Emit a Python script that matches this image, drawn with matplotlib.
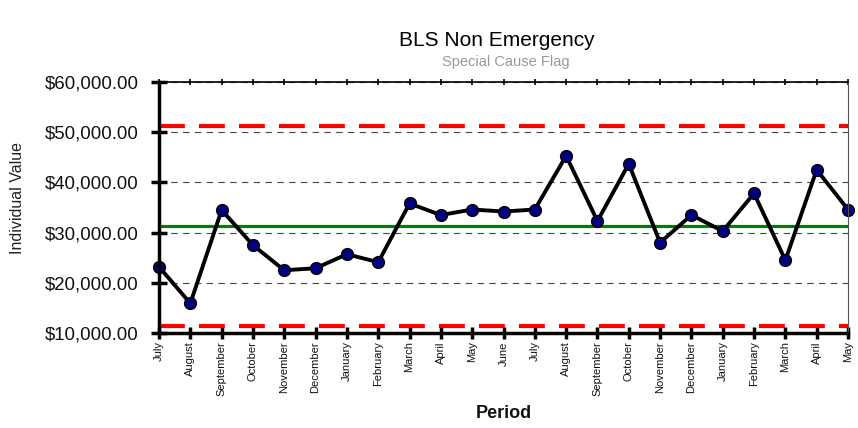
import numpy as np
import matplotlib.pyplot as plt

plt.rcParams['font.family'] = ['Liberation Sans', 'DejaVu Sans']

months = ['July', 'August', 'September', 'October', 'November', 'December',
          'January', 'February', 'March', 'April', 'May', 'June', 'July',
          'August', 'September', 'October', 'November', 'December', 'January',
          'February', 'March', 'April', 'May']
values = [23200, 15900, 34500, 27500, 22500, 22900, 25700, 24100, 35800,
          33500, 34600, 34200, 34600, 45300, 32300, 43700, 28000, 33500,
          30300, 37800, 24500, 42500, 34600]
center_line = 31400
ucl = 51300
lcl = 11400
y_ticks = [10000, 20000, 30000, 40000, 50000, 60000]

fig = plt.figure(figsize=(8.58, 4.28), dpi=100)
ax = fig.add_axes([159 / 858, 1 - 333 / 428, (848 - 159) / 858, (333 - 82) / 428])

x = np.arange(len(values))

# control limits and centre line
ax.axhline(ucl, color='#ff0000', lw=3, dashes=(6.2, 3.4), zorder=2)
ax.axhline(lcl, color='#ff0000', lw=3, dashes=(6.2, 3.4), zorder=2)
ax.axhline(center_line, color='#008000', lw=2.3, zorder=2)

ax.plot(x, values, color='black', lw=2.8, marker='o', markersize=8.5,
        markerfacecolor='#000080', markeredgecolor='black', markeredgewidth=1,
        zorder=4, clip_on=False)

ax.set_xlim(0, len(values) - 1)
ax.set_ylim(10000, 60000)
ax.set_yticks(y_ticks)
ax.set_yticklabels(['${:,.2f}'.format(v) for v in y_ticks], fontsize=13.4,
                   color='#111111')
ax.set_xticks(x)
ax.set_xticklabels(months, rotation=90, fontsize=8, color='#111111')

ax.grid(axis='y', color='#444444', lw=0.8, dashes=(5.8, 4.8), zorder=1)
ax.set_axisbelow(True)

ax.spines['left'].set_linewidth(2.5)
ax.spines['bottom'].set_linewidth(2.5)
ax.spines['top'].set_linewidth(1.2)
ax.spines['right'].set_linewidth(0.8)
ax.spines['right'].set_color('#555555')
for s in ax.spines.values():
    s.set_zorder(5)

ax.tick_params(axis='y', direction='inout', length=11, width=2.5, pad=9)
ax.tick_params(axis='x', direction='inout', length=8, width=2.5, pad=2,
               top=True)
for t in ax.xaxis.get_major_ticks():
    t.tick2line.set_markeredgewidth(1.2)
    t.tick2line.set_markersize(5)

fig.text(504 / 858, 1 - 413 / 428, 'Period', fontsize=13, fontweight='bold',
         ha='center', va='center', color='#111111')
fig.text(18 / 858, 1 - 198 / 428, 'Individual Value', fontsize=11.5,
         rotation=90, ha='center', va='center', color='#222222')
fig.text(497 / 858, 1 - 40 / 428, 'BLS Non Emergency', fontsize=15,
         ha='center', va='center')
fig.text(506 / 858, 1 - 62 / 428, 'Special Cause Flag', fontsize=10.5,
         color='#999999', ha='center', va='center')

fig.savefig('out.png', dpi=100)
